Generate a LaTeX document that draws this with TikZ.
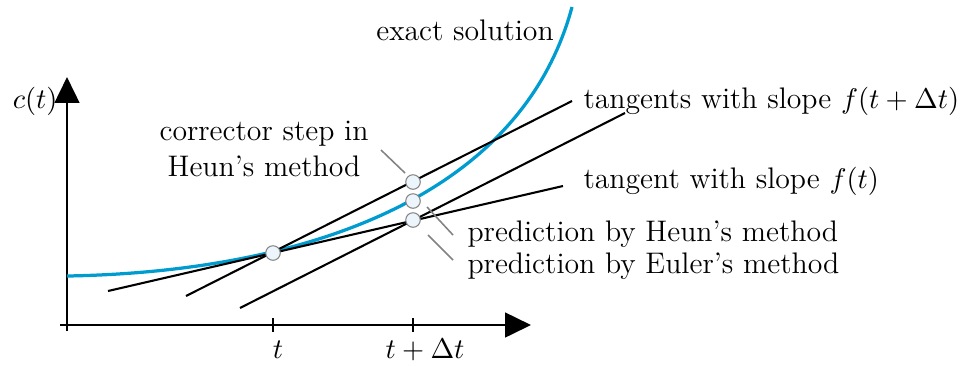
\documentclass[tikz,border=0pt]{standalone}
\usetikzlibrary{arrows.meta}
\definecolor{curveblue}{RGB}{0,156,208}
\definecolor{leadgray}{RGB}{130,130,130}
\definecolor{ptfill}{RGB}{236,245,251}
\begin{document}
\begin{tikzpicture}[x=0.385pt,y=-0.385pt,
  axisline/.style={line width=1pt,-{Triangle[length=10pt,width=9.5pt]}},
  tangentline/.style={line width=0.8pt,black},
  exactline/.style={line width=1.25pt,curveblue},
  leader/.style={line width=0.6pt,leadgray},
  ptmark/.style={circle,draw=leadgray,fill=ptfill,line width=0.4pt,minimum size=5.6pt,inner sep=0pt},
  lbl/.style={inner sep=0pt,font=\fontsize{11.45}{13.7}\selectfont}]
\useasboundingbox (0,0) rectangle (960,365);
% axes
\coordinate (xs) at (60,325);
\coordinate (xe) at (531,325);
\coordinate (ys) at (67,331);
\coordinate (ye) at (67,77);
\draw[axisline] (xs) -- (xe);
\draw[axisline] (ys) -- (ye);
\coordinate (t1a) at (273,318); \coordinate (t1b) at (273,332);
\coordinate (t2a) at (413,318); \coordinate (t2b) at (413,332);
\draw[line width=0.8pt] (t1a) -- (t1b);
\draw[line width=0.8pt] (t2a) -- (t2b);
\node[lbl,anchor=base] (tl) at (278,358) {$t$};
\node[lbl,anchor=base] (tdl) at (425,358) {$t+\Delta t$};
\node[lbl,anchor=base east] (cl) at (58,108) {$c(t)$};
% exact solution
\coordinate (e0) at (67,276);
\coordinate (e1) at (300,272);
\coordinate (e2) at (520,200);
\coordinate (e3) at (572,7);
\draw[exactline] (e0) .. controls (e1) and (e2) .. (e3);
% tangents
\coordinate (a1) at (108,291); \coordinate (a2) at (563,186);
\coordinate (b1) at (186,296); \coordinate (b2) at (572,101);
\coordinate (c1) at (240,308); \coordinate (c2) at (625,113);
\draw[tangentline] (a1) -- (a2);
\draw[tangentline] (b1) -- (b2);
\draw[tangentline] (c1) -- (c2);
% leaders
\coordinate (l1a) at (381,150); \coordinate (l1b) at (405,173);
\coordinate (l2a) at (427,207); \coordinate (l2b) at (453,235);
\coordinate (l3a) at (428,235); \coordinate (l3b) at (453,260);
\draw[leader] (l1a) -- (l1b);
\draw[leader] (l2a) -- (l2b);
\draw[leader] (l3a) -- (l3b);
% points
\node[ptmark] (p0) at (273,253) {};
\node[ptmark] (pc) at (413,182) {};
\node[ptmark] (ph) at (413,201) {};
\node[ptmark] (pe) at (413,220) {};
% labels
\node[lbl,anchor=base] (ex) at (465,40) {exact solution};
\node[lbl,align=center,anchor=center] (cs) at (264,149) {corrector step in\\Heun's method};
\node[lbl,anchor=base west] (tg2) at (583,108) {tangents with slope $f(t+\Delta t)$};
\node[lbl,anchor=base west] (tg1) at (583,188) {tangent with slope $f(t)$};
\node[lbl,anchor=base west] (hp) at (467,241) {prediction by Heun's method};
\node[lbl,anchor=base west] (ep) at (467,273) {prediction by Euler's method};
\end{tikzpicture}
\end{document}
